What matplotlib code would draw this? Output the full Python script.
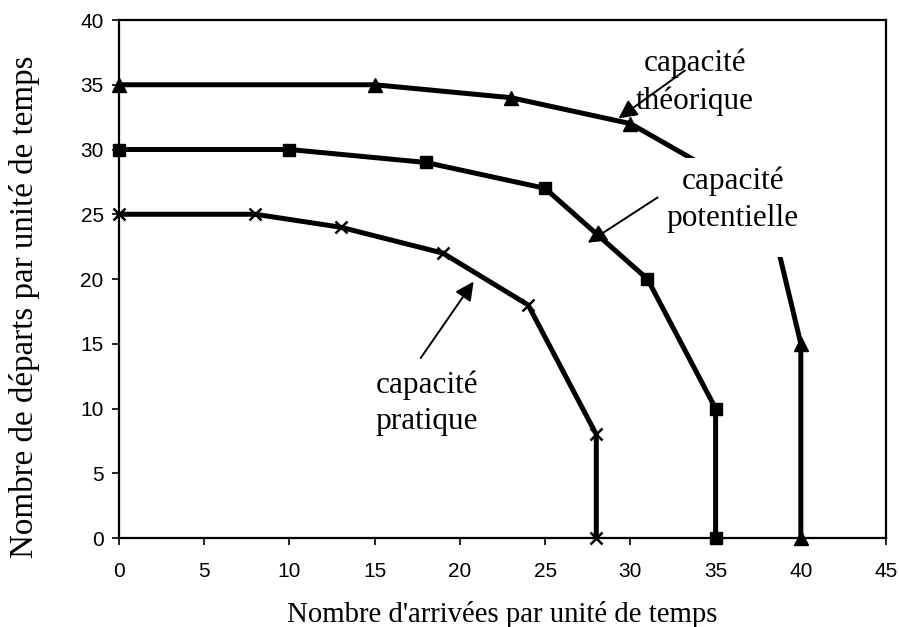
import matplotlib.pyplot as plt
from matplotlib.patches import Rectangle

# capacity curves: arrivals (x) vs departures (y) per unit of time
theo_x = [0, 15, 23, 30, 38, 40, 40]
theo_y = [35, 35, 34, 32, 26, 15, 0]
theo_mark = [0, 1, 2, 3, 5, 6]  # the (38, 26) vertex carries no marker

pot_x = [0, 10, 18, 25, 31, 35, 35]
pot_y = [30, 30, 29, 27, 20, 10, 0]

prat_x = [0, 8, 13, 19, 24, 28, 28]
prat_y = [25, 25, 24, 22, 18, 8, 0]

xticks = list(range(0, 50, 5))
yticks = list(range(0, 45, 5))

serif = ['Liberation Serif', 'DejaVu Serif']
sans = ['Liberation Sans', 'DejaVu Sans']

fig = plt.figure(figsize=(8.99, 6.27), dpi=100)
ax = fig.add_axes([0.1324, 0.1419, 0.8532, 0.8262])

lw = 3.6
ax.plot(theo_x, theo_y, color='black', lw=lw, marker='^', markersize=10,
        markevery=theo_mark, zorder=3, clip_on=False)
ax.plot(pot_x, pot_y, color='black', lw=lw, marker='s', markersize=9,
        zorder=3, clip_on=False)
ax.plot(prat_x, prat_y, color='black', lw=lw, marker='x', markersize=9,
        markeredgewidth=1.8, zorder=3, clip_on=False)

ax.set_xlim(0, 45)
ax.set_ylim(0, 40)
ax.set_xticks(xticks)
ax.set_yticks(yticks)
for spine in ax.spines.values():
    spine.set_linewidth(1.6)
ax.tick_params(direction='out', length=5, width=1.2, labelsize=15)
ax.tick_params(axis='x', pad=12)
ax.tick_params(axis='y', pad=6)
for lab in ax.get_xticklabels() + ax.get_yticklabels():
    lab.set_family(sans)

# axis titles
fig.text(502 / 899, 1 - 622 / 627, "Nombre d'arrivées par unité de temps",
         family=serif, fontsize=20.7, ha='center', va='baseline')
fig.text(40 / 899, 1 - 307 / 627, "Nombre de départs par unité de temps",
         family=serif, fontsize=23.8, rotation=90, ha='right', va='center')

# labels with thin arrows
fs = 22.5
ls = 1.35
arrow = dict(arrowstyle='-|>', color='black', lw=1.4, mutation_scale=28,
             shrinkA=0, shrinkB=0)
ax.text(33.8, 35.2, 'capacité\nthéorique', family=serif, fontsize=fs,
        ha='center', va='center', linespacing=ls, zorder=5)
ax.annotate('', xy=(29.3, 32.4), xytext=(33.2, 36.1), arrowprops=arrow,
            zorder=4)

# white text box of the middle label hides part of the upper curve
ax.add_patch(Rectangle((0.716, 0.542), 0.178, 0.192, transform=ax.transAxes,
                       facecolor='white', edgecolor='none', zorder=4))
ax.text(36.0, 26.1, 'capacité\npotentielle', family=serif, fontsize=fs,
        ha='center', va='center', linespacing=ls, zorder=5)
ax.annotate('', xy=(27.5, 22.8), xytext=(31.6, 26.3), arrowprops=arrow,
            zorder=4)

ax.text(18.07, 10.4, 'capacité\npratique', family=serif, fontsize=fs,
        ha='center', va='center', linespacing=ls, zorder=5)
ax.annotate('', xy=(20.8, 19.8), xytext=(17.7, 13.9), arrowprops=arrow,
            zorder=4)

fig.savefig('out.png', dpi=100)
